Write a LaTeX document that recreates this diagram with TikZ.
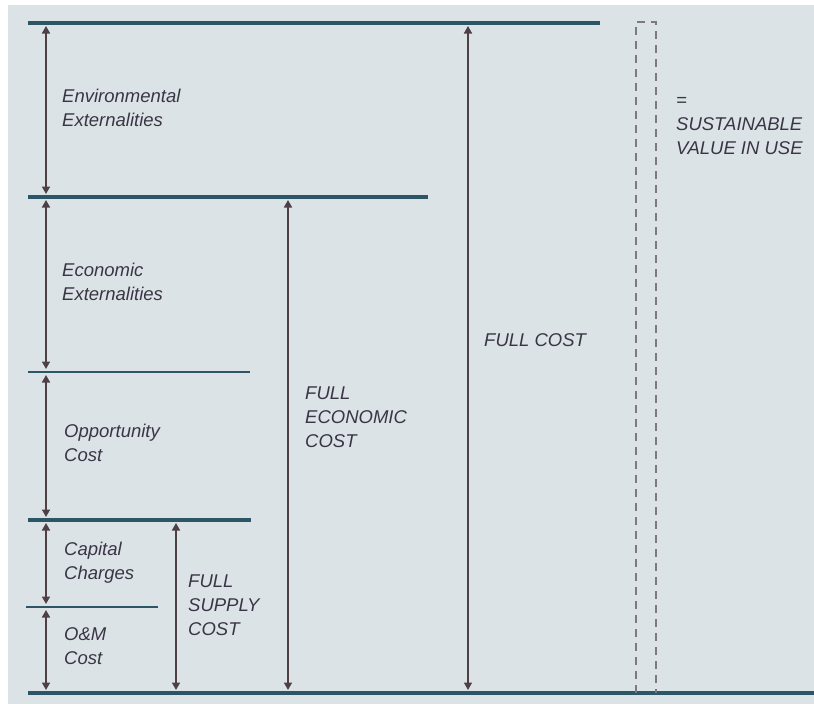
\documentclass[tikz,border=0pt]{standalone}
\usepackage{fontspec}
\setmainfont{Liberation Sans}
\usepackage{tikz}
\usetikzlibrary{arrows.meta}
\usetikzlibrary{positioning}

\definecolor{panel}{HTML}{DCE3E6}
\definecolor{levelcol}{HTML}{2C5666}
\definecolor{dimcol}{HTML}{4E4044}
\definecolor{txtcol}{HTML}{3A3546}
\definecolor{dashcol}{HTML}{7C7A7E}

\tikzset{
  level/.style={levelcol,line width=3.6pt},
  thinlevel/.style={levelcol,line width=1.6pt},
  dim/.style={dimcol,line width=1.5pt,<->,
    >={Triangle[length=7.5pt,width=8pt]},shorten <=3pt,shorten >=3pt},
  lbl/.style={txtcol,align=left,anchor=west,inner sep=0pt,
    font=\fontsize{18.5}{24}\selectfont\itshape},
  vbox/.style={dashcol,line width=2.2pt,dash pattern=on 8pt off 6pt}
}

\begin{document}
\begin{tikzpicture}[x=1pt,y=-1pt]
    \useasboundingbox (0,0) rectangle (814,704);
    \fill[panel] (8,5) rectangle (814,704);
    % levels
    \coordinate (L0) at (28,23);
    \coordinate (L1) at (28,197);
    \coordinate (L2) at (28,372);
    \coordinate (L3) at (28,520);
    \coordinate (L4) at (26,607);
    \coordinate (L5) at (28,693);
    \draw[level] (L0) -- (600,23);
    \draw[level] (L1) -- (428,197);
    \draw[thinlevel] (L2) -- (250,372);
    \draw[level] (L3) -- (251,520);
    \draw[thinlevel] (L4) -- (158,607);
    \draw[level] (L5) -- (814,693);
    % dashed column
    \draw[vbox] (636,693) -- (636,22) -- (656,22) -- (656,693);
    % arrow columns
    \coordinate (cA) at (46,0);
    \coordinate (cS) at (176,0);
    \coordinate (cE) at (288,0);
    \coordinate (cF) at (468,0);
    \draw[dim] (cA |- L0) -- (cA |- L1);
    \draw[dim] (cA |- L1) -- (cA |- L2);
    \draw[dim] (cA |- L2) -- (cA |- L3);
    \draw[dim] (cA |- L3) -- (cA |- L4);
    \draw[dim] (cA |- L4) -- (cA |- L5);
    \draw[dim] (cS |- L3) -- (cS |- L5);
    \draw[dim] (cE |- L1) -- (cE |- L5);
    \draw[dim] (cF |- L0) -- (cF |- L5);
    % labels
    \node[lbl] (env) at (62,108) {Environmental\\Externalities};
    \node[lbl] (eco) at (62,282) {Economic\\Externalities};
    \node[lbl] (opp) at (64,443) {Opportunity\\Cost};
    \node[lbl] (cap) at (64,563) {Capital\\Charges};
    \node[lbl] (om) at (64,646) {O\&M\\Cost};
    \node[lbl] (fsc) at (188,605) {FULL\\SUPPLY\\COST};
    \node[lbl] (fec) at (305,417) {FULL\\ECONOMIC\\COST};
    \node[lbl] (fc) at (484,340) {FULL COST};
    \node[lbl] (svu) at (676,126) {=\\SUSTAINABLE\\VALUE IN USE};
\end{tikzpicture}
\end{document}
